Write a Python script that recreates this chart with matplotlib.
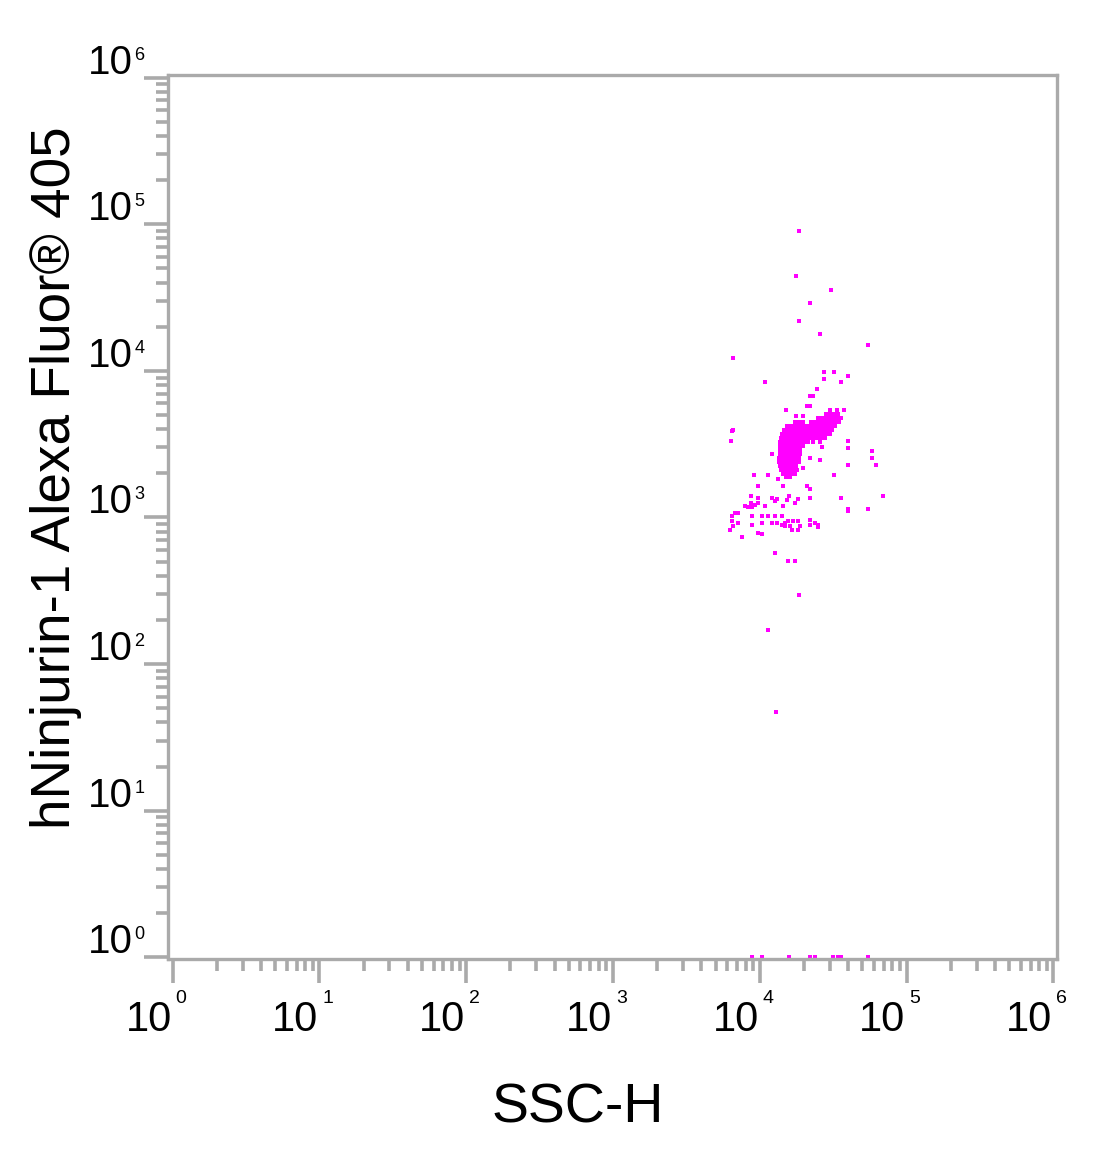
import matplotlib
matplotlib.use('Agg')
import matplotlib.pyplot as plt
from matplotlib.ticker import LogLocator, NullFormatter

plt.rcParams['font.family'] = ['Liberation Sans', 'DejaVu Sans']

# scattered events: SSC-H and hNinjurin-1 Alexa Fluor 405
ssc_sparse = [18500, 17700, 30600, 22000, 18500, 25700, 54700, 6570, 10850, 27400,
              32000, 27400, 39900, 35800, 24500, 22000, 23000, 21000, 22000, 15100,
              30100, 33600, 37500, 17700, 19700, 6470, 6570, 6370, 12100, 39900,
              39900, 39900, 58200, 58200, 62000, 22000, 25700, 19700, 26500, 9130,
              11400, 32000, 13300, 9800, 14400, 21000, 22000, 69200, 35800, 54700,
              39900, 39900, 8710, 8710, 9280, 9800, 9800, 7930, 8340, 8850,
              10850, 12100, 12700, 13200, 14400, 15300, 15800, 17400, 18200, 22000,
              6470, 6780, 7100, 6470, 6570, 7100, 6270, 7560, 8850, 8850,
              10400, 11400, 12700, 14200, 10400, 12100, 13200, 9800, 10400, 14200,
              14900, 15600, 16800, 18200, 14900, 16100, 16600, 18200, 18800, 22000,
              22000, 23800, 24900, 24900, 12700, 15600, 17400, 18500, 11400, 13000]
fl_sparse = [90300, 44600, 35800, 29200, 22000, 17900, 15100, 12300, 8440, 9880,
             9880, 8850, 9270, 8440, 7560, 6780, 6780, 5790, 5790, 5440,
             5440, 5440, 5440, 4950, 4950, 3910, 3970, 3340, 2690, 3340,
             2990, 2290, 2860, 2560, 2290, 2560, 2470, 2190, 3000, 1960,
             1960, 1960, 1840, 1650, 1650, 1650, 1570, 1410, 1350, 1150,
             1150, 1100, 1390, 1260, 1220, 1260, 1350, 1200, 1170, 1180,
             1200, 1350, 1290, 1330, 1200, 1310, 1390, 1260, 1330, 1350,
             1030, 1080, 1080, 952, 881, 923, 827, 730, 1030, 895,
             1030, 1030, 1030, 1030, 923, 923, 923, 789, 777, 895,
             923, 952, 952, 952, 881, 881, 827, 827, 881, 968,
             895, 923, 895, 867, 568, 508, 508, 294, 172, 46.8]

# dense population, one row of SSC-H values per fluorescence level
core_rows = [
    (5050, [28300, 30100, 32000, 34100]),
    (4750, [24900, 26500, 28300, 30100, 32000, 34100, 35800]),
    (4450, [17400, 18500, 19700, 22300, 23800, 25300, 27000, 28700, 30600, 32500, 34700]),
    (4200, [15300, 16300, 17400, 18500, 19700, 21000, 22300, 23800, 25300, 27000, 28700, 30600, 32500]),
    (3950, [14600, 15600, 16600, 17700, 18800, 20000, 21300, 22700, 24200, 25700, 27400, 29200, 31100]),
    (3700, [14200, 15100, 16100, 17100, 18200, 19400, 20700, 22000, 23400, 24900, 26500, 28300, 30100]),
    (3480, [13900, 14900, 15800, 16800, 17900, 19100, 20300, 21600, 23000, 24500, 26100, 27800]),
    (3270, [13700, 14600, 15600, 16600, 17700, 18800, 20000, 21300, 23000, 25700]),
    (3070, [13700, 14600, 15600, 16600, 17700, 18800, 19700]),
    (2880, [13700, 14600, 15600, 16600, 17700, 18800]),
    (2710, [13700, 14600, 15600, 16600, 17700, 18800]),
    (2540, [13500, 14400, 15300, 16300, 17400, 18500]),
    (2390, [13500, 14400, 15300, 16300, 17400, 18500]),
    (2240, [13700, 14600, 15600, 16600, 17700]),
    (2110, [13900, 14900, 15800, 16800, 17900]),
    (1980, [14400, 15300, 16300, 17400]),
    (1890, [15100, 16100]),
]

# events piled on the lower edge
floor_ssc = [8850, 10400, 15800, 22000, 23800, 31500, 34100, 35800, 54700]
floor_fl = [1.0, 1.0, 1.0, 1.0, 1.0, 1.0, 1.0, 1.0, 1.0]

decades = [0, 1, 2, 3, 4, 5, 6]

magenta = '#ff00ff'
grey = '#aaaaaa'

fig = plt.figure(figsize=(11, 11.66), dpi=100)
ax = fig.add_axes([0.153, 0.1773, 0.8076, 0.7584])
ax.set_xscale('log')
ax.set_yscale('log')
ax.set_xlim(10 ** -0.030, 10 ** 6.023)
ax.set_ylim(10 ** -0.0136, 10 ** 6.018)

core_ssc = []
core_fl = []
for fl, row in core_rows:
    for s in row:
        core_ssc.append(s)
        core_fl.append(fl)

for xs, ys in [(ssc_sparse, fl_sparse), (core_ssc, core_fl), (floor_ssc, floor_fl)]:
    ax.plot(xs, ys, 's', color=magenta, markersize=3, markeredgewidth=0, zorder=1)

for sp in ax.spines.values():
    sp.set_color(grey)
    sp.set_linewidth(2.4)

for axis in [ax.xaxis, ax.yaxis]:
    axis.set_major_locator(LogLocator(base=10, numticks=20))
    axis.set_minor_locator(LogLocator(base=10, subs=range(2, 10), numticks=20))
    axis.set_minor_formatter(NullFormatter())
ax.tick_params(which='both', direction='out', color=grey, width=2.6,
               labelbottom=False, labelleft=False, top=False, right=False)
ax.tick_params(which='major', length=17)
ax.tick_params(which='minor', length=8.5)

for k in decades:
    ax.annotate('10', xy=(10 ** k, 0), xycoords=('data', 'axes fraction'),
                xytext=(-1, -72), textcoords='offset pixels', ha='right', va='baseline',
                fontsize=30, annotation_clip=False)
    ax.annotate(str(k), xy=(10 ** k, 0), xycoords=('data', 'axes fraction'),
                xytext=(3, -44), textcoords='offset pixels', ha='left', va='baseline',
                fontsize=14, annotation_clip=False)
    ax.annotate('10', xy=(0, 10 ** k), xycoords=('axes fraction', 'data'),
                xytext=(-35, 4), textcoords='offset pixels', ha='right', va='baseline',
                fontsize=29, annotation_clip=False)
    ax.annotate(str(k), xy=(0, 10 ** k), xycoords=('axes fraction', 'data'),
                xytext=(-34, 18), textcoords='offset pixels', ha='left', va='baseline',
                fontsize=13, annotation_clip=False)

fig.text(0.5255, 0.0369, 'SSC-H', ha='center', va='baseline', fontsize=40)
fig.text(0.0509, 0.5905, 'hNinjurin-1 Alexa Fluor® 405', rotation=90,
         ha='center', va='center', fontsize=39.5)

fig.savefig('out.png', dpi=100)
